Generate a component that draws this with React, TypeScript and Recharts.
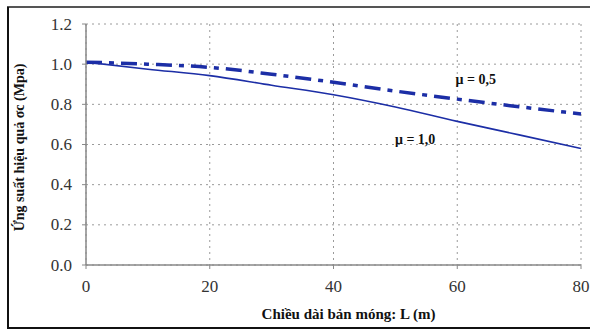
import React from "react";
import { LineChart, Line, XAxis, YAxis, CartesianGrid, ReferenceDot } from "recharts";

const lengths = [0, 10, 20, 30, 40, 50, 60, 70, 80];
const mu05 = [1.01, 1.0, 0.984, 0.95, 0.91, 0.866, 0.826, 0.788, 0.752];
const mu10 = [1.01, 0.975, 0.943, 0.895, 0.848, 0.787, 0.715, 0.648, 0.58];
const xTicks = [0, 20, 40, 60, 80];
const yTicks = [0, 0.2, 0.4, 0.6, 0.8, 1.0, 1.2];
const seriesLabels = { a: "μ = 0,5", b: "μ = 1,0" };
const xTitle = "Chiều dài bản móng: L (m)";
const yTitle = "Ứng suất hiệu quả σc (Mpa)";

const data = lengths.map((L, i) => ({ L, a: mu05[i], b: mu10[i] }));

const serif = "'Liberation Serif', 'DejaVu Serif', serif";
const blue = "#1c2ea6";

const renderXTick = (props: any) => {
  const { x, y, payload } = props;
  return (
    <text
      x={x}
      y={y + 15}
      textAnchor="middle"
      dominantBaseline="central"
      style={{ fontFamily: serif, fontSize: 17 }}
      fill="#333"
    >
      {payload.value}
    </text>
  );
};

const renderYTick = (props: any) => {
  const { y, payload } = props;
  return (
    <text
      x={72}
      y={y}
      textAnchor="end"
      dominantBaseline="central"
      style={{ fontFamily: serif, fontSize: 17 }}
      fill="#333"
    >
      {Number(payload.value).toFixed(1)}
    </text>
  );
};

const YTitle = (props: any) => {
  const vb = props.viewBox || {};
  const cy = (vb.y || 0) + (vb.height || 0) / 2 + 3;
  return (
    <text
      x={19}
      y={cy}
      transform={`rotate(-90, 19, ${cy})`}
      textAnchor="middle"
      dominantBaseline="central"
      style={{ fontFamily: serif, fontWeight: "bold", fontSize: 14 }}
      fill="#111"
    >
      {yTitle}
    </text>
  );
};

const XTitle = (props: any) => {
  const vb = props.viewBox || {};
  const cx = (vb.x || 0) + (vb.width || 0) / 2 + 15;
  return (
    <text
      x={cx}
      y={314}
      textAnchor="middle"
      dominantBaseline="central"
      style={{ fontFamily: serif, fontWeight: "bold", fontSize: 15 }}
      fill="#111"
    >
      {xTitle}
    </text>
  );
};

const muLabel = (text: string) => (props: any) => {
  const vb = props.viewBox || {};
  const cx = (vb.x || 0) + (vb.width || 0) / 2;
  const cy = (vb.y || 0) + (vb.height || 0) / 2;
  return (
    <text
      x={cx}
      y={cy}
      textAnchor="middle"
      dominantBaseline="central"
      style={{ fontFamily: serif, fontWeight: "bold", fontSize: 14 }}
      fill="#111"
    >
      {text}
    </text>
  );
};

export default function App() {
  return (
    <div style={{ position: "absolute", left: 0, top: 0, width: 590, height: 329, background: "#fff" }}>
      <LineChart
        width={590}
        height={329}
        data={data}
        margin={{ top: 24, right: 9, bottom: 0, left: 0 }}
      >
        <CartesianGrid stroke="#9a9a9a" strokeDasharray="2 4" />
        <XAxis
          dataKey="L"
          type="number"
          domain={[0, 80]}
          ticks={xTicks}
          tickSize={4}
          axisLine={{ stroke: "#888", strokeWidth: 1.5 }}
          tickLine={{ stroke: "#888" }}
          tick={renderXTick}
          height={64}
          label={<XTitle />}
        />
        <YAxis
          type="number"
          domain={[0, 1.2]}
          ticks={yTicks}
          width={86}
          tickSize={4}
          axisLine={{ stroke: "#888", strokeWidth: 1.5 }}
          tickLine={{ stroke: "#888" }}
          tick={renderYTick}
          label={<YTitle />}
        />
        <Line
          type="monotone"
          dataKey="a"
          stroke={blue}
          strokeWidth={3.5}
          strokeDasharray="16 7 5 7"
          dot={false}
          isAnimationActive={false}
        />
        <Line
          type="monotone"
          dataKey="b"
          stroke={blue}
          strokeWidth={1.6}
          dot={false}
          isAnimationActive={false}
        />
        <ReferenceDot x={63} y={0.923} r={0} stroke="none" fill="none" label={muLabel(seriesLabels.a)} />
        <ReferenceDot x={53.2} y={0.624} r={0} stroke="none" fill="none" label={muLabel(seriesLabels.b)} />
      </LineChart>
      <div style={{ position: "absolute", left: 7, top: 6, width: 583, height: 2, background: "#555" }} />
      <div style={{ position: "absolute", left: 7, top: 7, width: 1.5, height: 321, background: "#111" }} />
      <div style={{ position: "absolute", left: 7, top: 327, width: 583, height: 2, background: "#111" }} />
    </div>
  );
}
